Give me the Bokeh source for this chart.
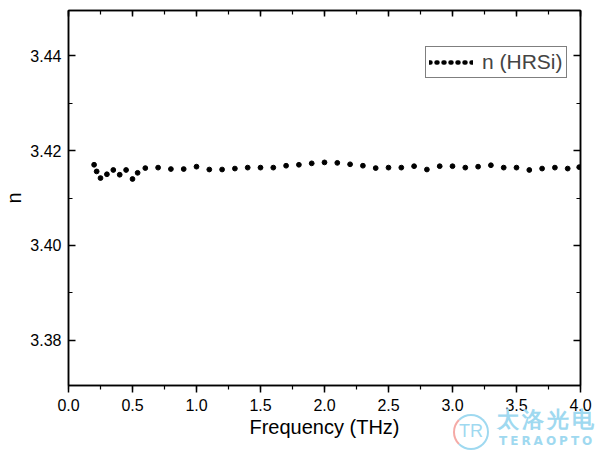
from bokeh.plotting import figure
from bokeh.layouts import column
from bokeh.models import (LinearAxis, Range1d, Legend, LegendItem, InlineStyleSheet,
                          SingleIntervalTicker, ColumnDataSource, PrintfTickFormatter,
                          CustomJSTickFormatter)
from bokeh.embed import file_html
from bokeh.resources import INLINE

# Refractive index of high-resistivity silicon vs. frequency
freq_thz = [0.20, 0.22, 0.25, 0.30, 0.35, 0.40, 0.45, 0.50, 0.54, 0.60,
            0.70, 0.80, 0.90, 1.00, 1.10, 1.20, 1.30, 1.40, 1.50, 1.60,
            1.70, 1.80, 1.90, 2.00, 2.10, 2.20, 2.30, 2.40, 2.50, 2.60,
            2.70, 2.80, 2.90, 3.00, 3.10, 3.20, 3.30, 3.40, 3.50, 3.60,
            3.70, 3.80, 3.90, 3.99]
n_hrsi = [3.4170, 3.4156, 3.4142, 3.4150, 3.4159, 3.4149, 3.4159, 3.4140, 3.4153, 3.4163,
          3.4164, 3.4161, 3.4161, 3.4166, 3.4160, 3.4160, 3.4162, 3.4164, 3.4164, 3.4164,
          3.4168, 3.4170, 3.4173, 3.4175, 3.4174, 3.4171, 3.4168, 3.4163, 3.4164, 3.4164,
          3.4167, 3.4160, 3.4167, 3.4167, 3.4164, 3.4166, 3.4169, 3.4164, 3.4164, 3.4159,
          3.4162, 3.4164, 3.4162, 3.4165]

series_label = "n (HRSi)"
x_title = "Frequency (THz)"
y_title = "n"

FONT = "Liberation Sans"
WM_BLUE = "#9fd9f0"
WM_PINK = "#f5aaa6"

# company watermark, drawn as CSS overlays below the plot frame
logo_css = InlineStyleSheet(css=f"""
:host {{ position: relative; }}
:host::before {{
  content: "TR"; position: absolute; left: 453px; top: 414px;
  width: 36px; height: 36px; box-sizing: border-box;
  border: 2.5px solid {WM_BLUE}; border-left-color: {WM_PINK};
  border-radius: 50%; color: {WM_BLUE}; font: 18px "Liberation Sans", sans-serif;
  text-align: center; line-height: 31px; z-index: 10; pointer-events: none;
}}
:host::after {{
  content: "太洛光电"; position: absolute; left: 497px; top: 409px;
  font: bold 22px "Noto Sans CJK SC", sans-serif; letter-spacing: 3px;
  line-height: 22px; color: {WM_BLUE}; white-space: nowrap; z-index: 10;
  pointer-events: none;
}}
""")
brand_css = InlineStyleSheet(css=f"""
:host {{ position: relative; }}
:host::after {{
  content: "TERAOPTO"; position: absolute; left: 499px; top: 435px;
  font: bold 12px "DejaVu Sans", sans-serif; letter-spacing: 3px;
  line-height: 12px; color: {WM_BLUE}; white-space: nowrap; z-index: 10;
  pointer-events: none;
}}
""")

fig = figure(width=600, height=450, output_backend="svg", toolbar_location=None,
             x_range=Range1d(0.0, 4.0), y_range=Range1d(3.3705, 3.4495),
             min_border_left=67, min_border_right=20, min_border_top=10,
             min_border_bottom=65, x_axis_location=None, y_axis_location=None,
             stylesheets=[logo_css])
fig.background_fill_color = "white"
fig.border_fill_color = "white"
fig.grid.visible = False
fig.outline_line_color = "black"
fig.outline_line_width = 1.5

blank = CustomJSTickFormatter(code="return '';")


def style_axis(ax, labels=True, tick_in=0, tick_out=0):
    ax.axis_line_color = "black"
    ax.axis_line_width = 1.5
    ax.major_tick_line_color = "black"
    ax.minor_tick_line_color = "black"
    ax.major_tick_line_width = 1.5
    ax.minor_tick_line_width = 1.2
    ax.major_tick_in = tick_in
    ax.major_tick_out = tick_out
    ax.minor_tick_in = tick_in // 2 + (1 if tick_in else 0)
    ax.minor_tick_out = tick_out // 2 + (1 if tick_out else 0)
    ax.major_label_text_font = FONT
    ax.major_label_text_font_size = "16px"
    ax.major_label_text_color = "black"
    ax.axis_label_text_font = FONT
    ax.axis_label_text_font_size = "20px"
    ax.axis_label_text_font_style = "normal"
    ax.axis_label_text_color = "black"
    if not labels:
        ax.formatter = blank
        ax.major_label_standoff = 0


xticker = SingleIntervalTicker(interval=0.5, num_minor_ticks=2)
yticker = SingleIntervalTicker(interval=0.02, num_minor_ticks=2)

xb = LinearAxis(ticker=xticker, axis_label=x_title)
style_axis(xb, tick_out=7)
xb.major_label_standoff = 6
xb.axis_label_standoff = 2
xb.formatter = PrintfTickFormatter(format="%.1f")
fig.add_layout(xb, "below")

xt = LinearAxis(ticker=xticker)
style_axis(xt, labels=False, tick_in=6)
fig.add_layout(xt, "above")

yl = LinearAxis(ticker=yticker, axis_label=y_title)
style_axis(yl, tick_in=7)
yl.formatter = PrintfTickFormatter(format="%.2f")
yl.major_label_standoff = 7
yl.axis_label_standoff = 2
fig.add_layout(yl, "left")

yr = LinearAxis(ticker=yticker)
style_axis(yr, labels=False, tick_in=7)
fig.add_layout(yr, "right")

src = ColumnDataSource(data=dict(x=freq_thz, y=n_hrsi))
fig.scatter("x", "y", source=src, size=4.8, color="black")

# dotted line used only as the legend glyph (its points sit outside the visible range)
leg_src = ColumnDataSource(data=dict(x=[-10.0, -9.0], y=[0.0, 0.0]))
leg_line = fig.line("x", "y", source=leg_src, line_color="black", line_width=4.5,
                    line_dash="1 6", line_cap="round")

legend = Legend(items=[LegendItem(label=series_label, renderers=[leg_line])],
                location=(357, 307))
legend.glyph_width = 44
legend.glyph_height = 18
legend.label_text_font = FONT
legend.label_text_font_size = "21px"
legend.label_standoff = 9
legend.label_width = 71
legend.border_line_color = "black"
legend.border_line_width = 1.2
legend.padding = 3
legend.margin = 0
legend.spacing = 0
legend.label_height = 20
legend.background_fill_alpha = 1.0
fig.add_layout(legend, "center")

p = column(fig, width=600, height=450, stylesheets=[brand_css])

open("out.html", "w").write(file_html(p, INLINE))
